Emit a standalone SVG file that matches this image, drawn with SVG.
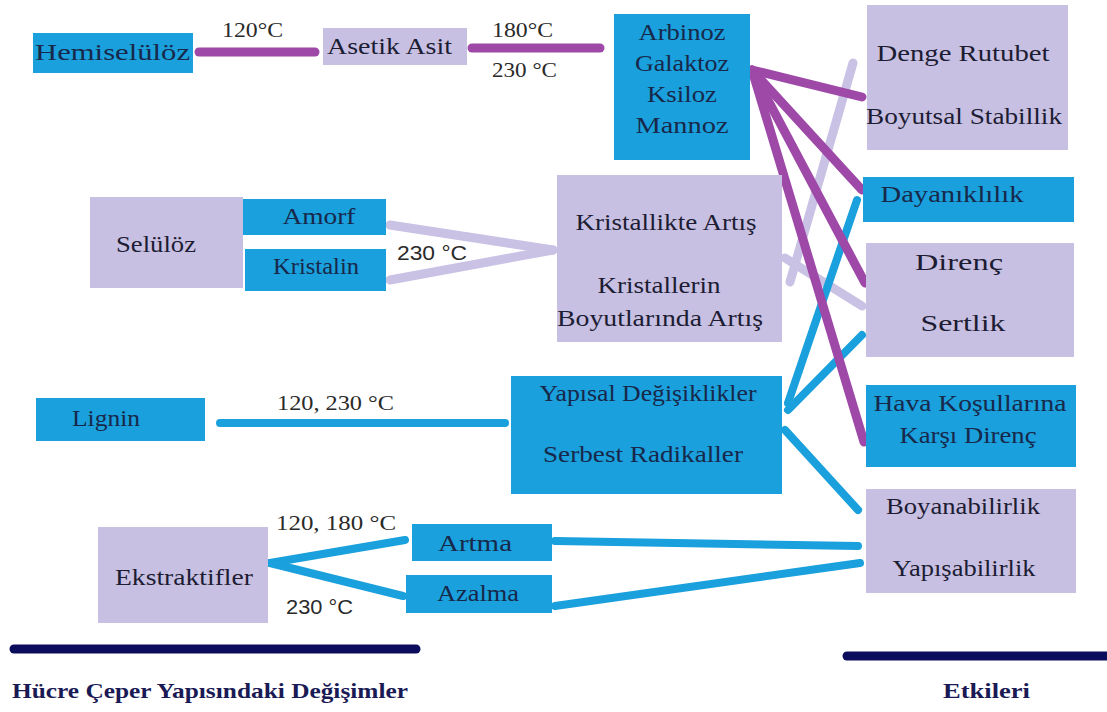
<svg xmlns="http://www.w3.org/2000/svg" width="1107" height="712" viewBox="0 0 1107 712">
<style>
.blue{fill:#1aa0dc}
.lav{fill:#c8c0e2}
.tb{font-family:"Liberation Serif","Times New Roman",serif;font-size:23px;fill:#17284a}
.tl{font-family:"Liberation Serif","Times New Roman",serif;font-size:23px;fill:#1c1c33}
.lbl{font-family:"Liberation Serif","Times New Roman",serif;font-size:21px;fill:#2a2a2a}
.lbls{font-family:"Liberation Sans",Arial,sans-serif;font-size:20px;fill:#2a2a2a}
.ttl{font-family:"Liberation Serif","Times New Roman",serif;font-size:22px;font-weight:bold;fill:#1a1a55}
.cp{stroke:#9e48a8;stroke-width:9;stroke-linecap:round;fill:none}
.cb{stroke:#1aa0dc;stroke-width:8;stroke-linecap:round;fill:none}
.cl{stroke:#c9c2e4;stroke-width:9;stroke-linecap:round;fill:none}
.cn{stroke:#0c0c5c;stroke-width:9;stroke-linecap:round;fill:none}
</style>
<rect width="1107" height="712" fill="#ffffff"/>
<g id="connectors">
<line class="cl" x1="853" y1="63" x2="790" y2="282"/>
<line class="cl" x1="785" y1="258" x2="862" y2="306"/>
<line class="cl" x1="390" y1="225" x2="553" y2="250"/>
<line class="cl" x1="390" y1="280" x2="553" y2="250"/>
<line class="cb" x1="220" y1="423" x2="505" y2="423"/>
<line class="cb" x1="788" y1="403" x2="857" y2="200"/>
<line class="cb" x1="788" y1="410" x2="862" y2="335"/>
<line class="cb" x1="785" y1="430" x2="858" y2="510"/>
<line class="cb" x1="270" y1="563" x2="405" y2="540"/>
<line class="cb" x1="270" y1="563" x2="403" y2="596"/>
<line class="cb" x1="555" y1="541" x2="858" y2="546"/>
<line class="cb" x1="555" y1="606" x2="860" y2="563"/>
<line class="cp" x1="199" y1="52" x2="315" y2="52"/>
<line class="cp" x1="472" y1="48" x2="600" y2="48"/>
<line class="cp" x1="752" y1="70" x2="862" y2="97"/>
<line class="cp" x1="752" y1="70" x2="862" y2="190"/>
<line class="cp" x1="752" y1="70" x2="865" y2="283"/>
<line class="cp" x1="752" y1="70" x2="864" y2="442"/>
<line class="cn" x1="14" y1="649" x2="416" y2="649"/>
<line class="cn" x1="847" y1="656" x2="1107" y2="656"/>
</g>
<g id="labels">
<text class="lbl" x="222" y="37" textLength="61" lengthAdjust="spacingAndGlyphs">120°C</text>
<text class="lbl" x="492" y="37" textLength="61" lengthAdjust="spacingAndGlyphs">180°C</text>
<text class="lbl" x="492" y="77" textLength="65" lengthAdjust="spacingAndGlyphs">230 °C</text>
<text class="lbls" x="397" y="260" textLength="70" lengthAdjust="spacingAndGlyphs">230 °C</text>
<text class="lbl" x="277" y="410" textLength="117" lengthAdjust="spacingAndGlyphs">120, 230 °C</text>
<text class="lbl" x="276" y="530" textLength="120" lengthAdjust="spacingAndGlyphs">120, 180 °C</text>
<text class="lbls" x="286" y="614" textLength="67" lengthAdjust="spacingAndGlyphs">230 °C</text>
<text class="ttl" x="12" y="698" textLength="396" lengthAdjust="spacingAndGlyphs">Hücre Çeper Yapısındaki Değişimler</text>
<text class="ttl" x="943" y="698" textLength="87" lengthAdjust="spacingAndGlyphs">Etkileri</text>
</g>
<g id="hemiseluloz">
<rect class="blue" x="33" y="33" width="160" height="40"/>
<text class="tb" x="35" y="60" textLength="155" lengthAdjust="spacingAndGlyphs">Hemiselülöz</text>
</g>
<g id="asetik-asit">
<rect class="lav" x="323" y="28" width="144" height="37"/>
<text class="tl" x="327" y="54" textLength="125" lengthAdjust="spacingAndGlyphs">Asetik Asit</text>
</g>
<g id="sekerler">
<rect class="blue" x="614" y="14" width="136" height="146"/>
<text class="tb" x="682" y="40" text-anchor="middle" textLength="87" lengthAdjust="spacingAndGlyphs">Arbinoz</text>
<text class="tb" x="682" y="71" text-anchor="middle" textLength="94" lengthAdjust="spacingAndGlyphs">Galaktoz</text>
<text class="tb" x="682" y="102" text-anchor="middle" textLength="70" lengthAdjust="spacingAndGlyphs">Ksiloz</text>
<text class="tb" x="682" y="133" text-anchor="middle" textLength="93" lengthAdjust="spacingAndGlyphs">Mannoz</text>
</g>
<g id="denge-rutubet">
<rect class="lav" x="867" y="5" width="201" height="145"/>
<text class="tl" x="963" y="61" text-anchor="middle" textLength="173" lengthAdjust="spacingAndGlyphs">Denge Rutubet</text>
<text class="tl" x="964" y="124" text-anchor="middle" textLength="196" lengthAdjust="spacingAndGlyphs">Boyutsal Stabillik</text>
</g>
<g id="dayaniklilik">
<rect class="blue" x="863" y="177" width="211" height="45"/>
<text class="tb" x="952" y="202" text-anchor="middle" textLength="143" lengthAdjust="spacingAndGlyphs">Dayanıklılık</text>
</g>
<g id="direnc-sertlik">
<rect class="lav" x="866" y="243" width="208" height="114"/>
<text class="tl" x="959" y="270" text-anchor="middle" textLength="88" lengthAdjust="spacingAndGlyphs">Direnç</text>
<text class="tl" x="963" y="331" text-anchor="middle" textLength="85" lengthAdjust="spacingAndGlyphs">Sertlik</text>
</g>
<g id="hava-kosullari">
<rect class="blue" x="866" y="385" width="210" height="82"/>
<text class="tb" x="970" y="411" text-anchor="middle" textLength="193" lengthAdjust="spacingAndGlyphs">Hava Koşullarına</text>
<text class="tb" x="968" y="443" text-anchor="middle" textLength="137" lengthAdjust="spacingAndGlyphs">Karşı Direnç</text>
</g>
<g id="boyanabilirlik">
<rect class="lav" x="866" y="489" width="210" height="104"/>
<text class="tl" x="963" y="514" text-anchor="middle" textLength="154" lengthAdjust="spacingAndGlyphs">Boyanabilirlik</text>
<text class="tl" x="964" y="576" text-anchor="middle" textLength="143" lengthAdjust="spacingAndGlyphs">Yapışabilirlik</text>
</g>
<g id="seluloz">
<rect class="lav" x="90" y="197" width="153" height="91"/>
<text class="tl" x="116" y="252" textLength="80" lengthAdjust="spacingAndGlyphs">Selülöz</text>
</g>
<g id="amorf">
<rect class="blue" x="243" y="199" width="143" height="36"/>
<text class="tb" x="319" y="224" text-anchor="middle" textLength="73" lengthAdjust="spacingAndGlyphs">Amorf</text>
</g>
<g id="kristalin">
<rect class="blue" x="245" y="249" width="141" height="42"/>
<text class="tb" x="316" y="274" text-anchor="middle" textLength="86" lengthAdjust="spacingAndGlyphs">Kristalin</text>
</g>
<g id="kristallikte-artis">
<rect class="lav" x="557" y="175" width="225" height="167"/>
<text class="tl" x="666" y="230" text-anchor="middle" textLength="181" lengthAdjust="spacingAndGlyphs">Kristallikte Artış</text>
<text class="tl" x="659" y="293" text-anchor="middle" textLength="123" lengthAdjust="spacingAndGlyphs">Kristallerin</text>
<text class="tl" x="660" y="326" text-anchor="middle" textLength="206" lengthAdjust="spacingAndGlyphs">Boyutlarında Artış</text>
</g>
<g id="lignin">
<rect class="blue" x="36" y="398" width="169" height="43"/>
<text class="tb" x="72" y="426" textLength="68" lengthAdjust="spacingAndGlyphs">Lignin</text>
</g>
<g id="yapisal-degisiklikler">
<rect class="blue" x="511" y="376" width="271" height="118"/>
<text class="tb" x="648" y="401" text-anchor="middle" textLength="217" lengthAdjust="spacingAndGlyphs">Yapısal Değişiklikler</text>
<text class="tb" x="643" y="462" text-anchor="middle" textLength="200" lengthAdjust="spacingAndGlyphs">Serbest Radikaller</text>
</g>
<g id="ekstraktifler">
<rect class="lav" x="98" y="527" width="170" height="96"/>
<text class="tl" x="115" y="585" textLength="138" lengthAdjust="spacingAndGlyphs">Ekstraktifler</text>
</g>
<g id="artma">
<rect class="blue" x="412" y="524" width="140" height="37"/>
<text class="tb" x="475" y="551" text-anchor="middle" textLength="74" lengthAdjust="spacingAndGlyphs">Artma</text>
</g>
<g id="azalma">
<rect class="blue" x="406" y="575" width="146" height="38"/>
<text class="tb" x="478" y="601" text-anchor="middle" textLength="82" lengthAdjust="spacingAndGlyphs">Azalma</text>
</g>
</svg>
